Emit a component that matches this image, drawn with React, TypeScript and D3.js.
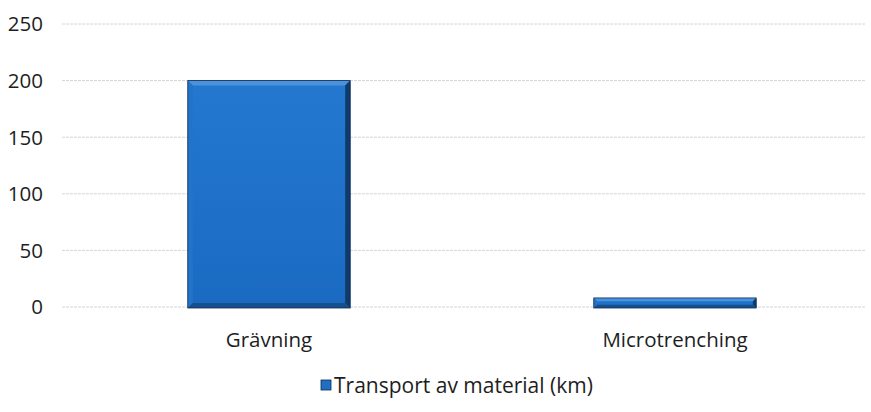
import * as d3 from "d3";

const categories = ["Grävning", "Microtrenching"];
const values = [200, 8];
const yTicks = [0, 50, 100, 150, 200, 250];
const seriesName = "Transport av material (km)";

const width = 871;
const height = 412;
const font = "Open Sans, sans-serif";

const App = () => {
  const x = d3
    .scaleBand()
    .domain(categories)
    .range([66, 878])
    .paddingInner(0.6)
    .paddingOuter(0.3);
  const y = d3.scaleLinear().domain([0, 250]).range([307, 24]);

  const bev = 5;

  return (
    <svg
      width={width}
      height={height}
      style={{ position: "absolute", left: 0, top: 0, background: "#fff" }}
    >
      <defs>
        <linearGradient id="face" x1="0" y1="0" x2="0" y2="1">
          <stop offset="0" stopColor="#2478cf" />
          <stop offset="1" stopColor="#1a6ac2" />
        </linearGradient>
      </defs>
      {/* gridlines */}
      {yTicks.map((t) => (
        <line
          key={t}
          x1={62}
          x2={866}
          y1={y(t)}
          y2={y(t)}
          stroke="#d4d4d4"
          strokeWidth={1}
          strokeDasharray="3 1"
        />
      ))}
      {/* y tick labels */}
      {yTicks.map((t) => (
        <text
          key={t}
          x={43}
          y={y(t)}
          dy="0.36em"
          textAnchor="end"
          fontFamily={font}
          fontSize={20.5}
          fill="#1e1e1e"
        >
          {t}
        </text>
      ))}
      {/* bars with bevel */}
      {categories.map((c, i) => {
        const x0 = x(c)!;
        const w = x.bandwidth();
        const y0 = y(values[i]);
        const y1 = y(0) + 1;
        const h = y1 - y0;
        const b = Math.min(bev, h / 3);
        return (
          <g key={c}>
            <rect x={x0} y={y0} width={w} height={h} fill="url(#face)" />
            {/* top light edge */}
            <polygon
              points={`${x0},${y0} ${x0 + w},${y0} ${x0 + w - b},${y0 + b} ${x0 + b},${y0 + b}`}
              fill="#4a93dc"
            />
            {/* left edge */}
            <polygon
              points={`${x0},${y0} ${x0 + b},${y0 + b} ${x0 + b},${y1 - b} ${x0},${y1}`}
              fill="#2273ca"
            />
            {/* right dark edge */}
            <polygon
              points={`${x0 + w},${y0} ${x0 + w},${y1} ${x0 + w - b},${y1 - b} ${x0 + w - b},${y0 + b}`}
              fill="#103a6b"
            />
            {/* bottom dark edge */}
            <polygon
              points={`${x0},${y1} ${x0 + w},${y1} ${x0 + w - b},${y1 - b} ${x0 + b},${y1 - b}`}
              fill="#154f8c"
            />
            <rect x={x0} y={y0} width={w} height={h} fill="none" stroke="#0d2c52" strokeWidth={0.8} />
          </g>
        );
      })}
      {/* category labels */}
      {categories.map((c) => (
        <text
          key={c}
          x={x(c)! + x.bandwidth() / 2}
          y={347}
          textAnchor="middle"
          fontFamily={font}
          fontSize={20.5}
          fill="#1e1e1e"
        >
          {c}
        </text>
      ))}
      {/* legend */}
      <rect x={321} y={380} width={10} height={10} fill="#1f6fc4" stroke="#0d2c52" strokeWidth={0.8} />
      <text x={334} y={393} fontFamily={font} fontSize={21} fill="#1e1e1e">
        {seriesName}
      </text>
    </svg>
  );
};

export default App;
